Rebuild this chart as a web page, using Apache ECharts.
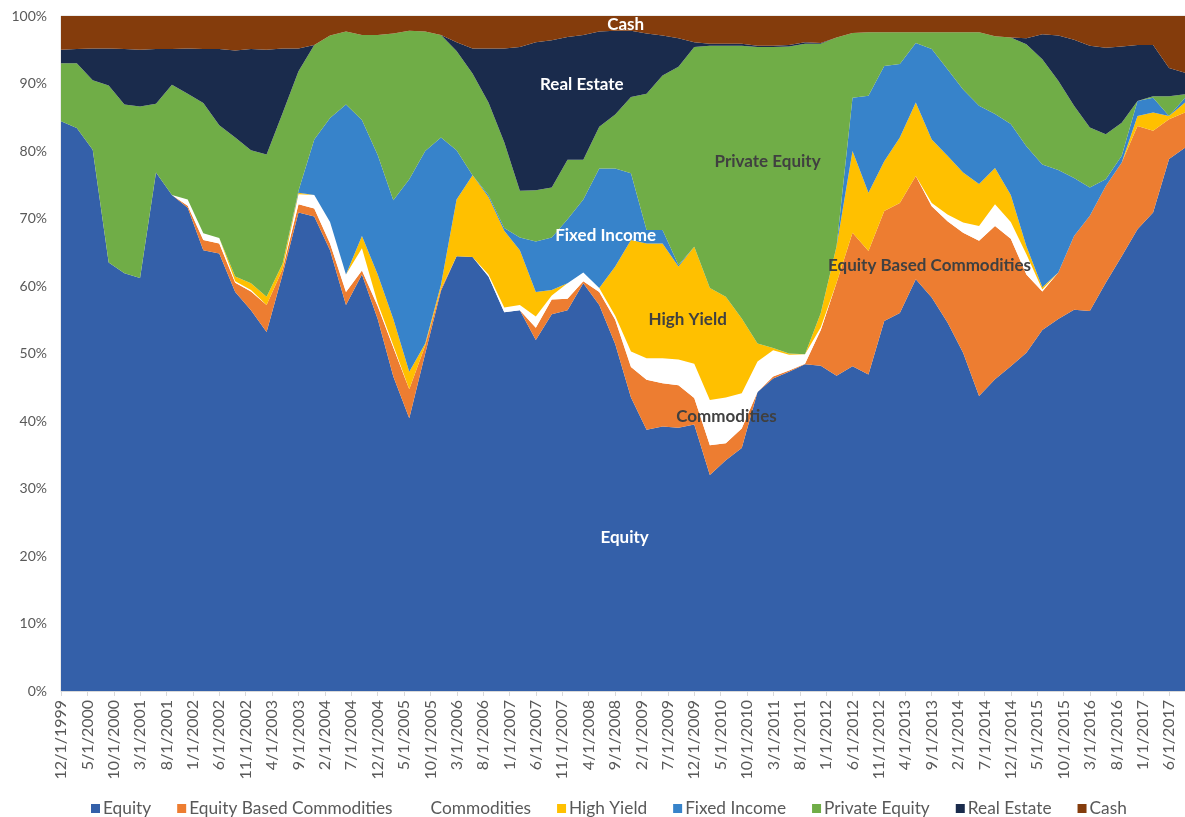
<!DOCTYPE html>
<html><head><meta charset="utf-8">
<script src="https://cdn.jsdelivr.net/npm/echarts/dist/echarts.min.js"></script>
<style>html,body{margin:0;padding:0;background:#fff}#c{width:1185px;height:817px}</style>
</head><body><div id="c"></div>
<script>
const quarters = ["12/1/1999","3/1/2000","6/1/2000","9/1/2000","12/1/2000","3/1/2001","6/1/2001","9/1/2001","12/1/2001","3/1/2002","6/1/2002","9/1/2002","12/1/2002","3/1/2003","6/1/2003","9/1/2003","12/1/2003","3/1/2004","6/1/2004","9/1/2004","12/1/2004","3/1/2005","6/1/2005","9/1/2005","12/1/2005","3/1/2006","6/1/2006","9/1/2006","12/1/2006","3/1/2007","6/1/2007","9/1/2007","12/1/2007","3/1/2008","6/1/2008","9/1/2008","12/1/2008","3/1/2009","6/1/2009","9/1/2009","12/1/2009","3/1/2010","6/1/2010","9/1/2010","12/1/2010","3/1/2011","6/1/2011","9/1/2011","12/1/2011","3/1/2012","6/1/2012","9/1/2012","12/1/2012","3/1/2013","6/1/2013","9/1/2013","12/1/2013","3/1/2014","6/1/2014","9/1/2014","12/1/2014","3/1/2015","6/1/2015","9/1/2015","12/1/2015","3/1/2016","6/1/2016","9/1/2016","12/1/2016","3/1/2017","6/1/2017","9/1/2017"];
const tickLabels = ["12/1/1999","5/1/2000","10/1/2000","3/1/2001","8/1/2001","1/1/2002","6/1/2002","11/1/2002","4/1/2003","9/1/2003","2/1/2004","7/1/2004","12/1/2004","5/1/2005","10/1/2005","3/1/2006","8/1/2006","1/1/2007","6/1/2007","11/1/2007","4/1/2008","9/1/2008","2/1/2009","7/1/2009","12/1/2009","5/1/2010","10/1/2010","3/1/2011","8/1/2011","1/1/2012","6/1/2012","11/1/2012","4/1/2013","9/1/2013","2/1/2014","7/1/2014","12/1/2014","5/1/2015","10/1/2015","3/1/2016","8/1/2016","1/1/2017","6/1/2017"];
const yTickLabels = ["0%","10%","20%","30%","40%","50%","60%","70%","80%","90%","100%"];

const equity = [84.4,83.4,80.2,63.5,61.9,61.2,76.8,73.5,71.6,65.3,64.8,59.1,56.4,53.2,61.7,70.9,70.3,65.3,57.2,61.7,55.1,46.6,40.4,50.0,59.3,64.4,64.3,61.4,56.1,56.4,52.0,55.8,56.4,60.4,57.2,51.4,43.5,38.7,39.2,39.0,39.5,32.0,34.2,36.0,44.3,46.3,47.3,48.4,48.2,46.7,48.1,46.9,54.8,56.0,61.0,58.3,54.6,50.1,43.7,46.2,48.1,50.1,53.5,55.1,56.5,56.3,60.5,64.4,68.4,70.9,78.8,80.5];
const equityBasedCommodities = [0,0,0,0,0,0,0,0,0.3,1.5,1.5,1.4,2.8,4.0,0.8,1.2,1.2,1.0,1.9,0.6,1.9,4.3,4.3,1.2,0.3,0,0,0,0,0,1.8,2.2,1.7,0.3,1.9,3.6,4.5,7.4,6.4,6.3,3.9,4.4,2.5,2.9,0,0.3,0.2,0.1,5.3,13.8,19.8,18.3,16.3,16.3,15.3,13.5,15.0,17.8,23.0,22.7,18.9,11.6,5.7,6.9,10.9,14.1,14.3,13.9,15.3,12.1,5.9,5.2];
const commodities = [0,0,0,0,0,0,0,0,0.9,1.0,0.8,0.2,0.2,0,0,1.5,2.0,3.2,2.6,3.3,0.5,0.3,0,0,0,0,0,0.3,0.7,0.8,1.7,0.6,2.3,1.3,0.6,0.6,2.3,3.2,3.7,3.8,5.1,6.7,6.8,5.2,4.5,3.9,2.3,1.4,0.4,0,0,0,0,0,0,0.5,1.0,1.5,2.2,3.2,2.5,3.0,0.3,0,0,0,0,0,0,0,0,0];
const highYield = [0,0,0,0,0,0,0,0,0,0,0,0.7,1.0,1.2,0.8,0.2,0,0,0,1.8,4.2,3.9,2.6,0.3,0.6,8.4,12.1,11.5,11.4,8.1,3.6,0.8,0,0,0,7.3,16.5,17.0,17.0,13.8,17.3,16.6,14.9,11.1,2.7,0.3,0.2,0,2.1,5.4,12.1,8.6,7.4,9.7,10.9,9.4,8.7,7.4,6.2,5.4,4.0,1.2,0.3,0,0,0,0,0,1.5,2.7,0.5,1.5];
const fixedIncome = [0,0,0,0,0,0,0,0,0,0,0,0,0,0,0,0.3,8.2,15.4,25.2,17.2,17.7,17.6,28.5,28.5,21.8,7.3,0,0.3,0.4,1.9,7.5,7.8,9.5,10.8,17.7,14.5,9.9,2.0,2.0,0.2,0,0,0,0,0,0,0,0,0,0,7.9,14.4,14.1,10.9,8.8,13.4,12.8,12.3,11.6,8.0,10.5,14.8,18.2,15.2,8.6,4.2,1.0,1.0,2.2,2.2,0,0.7];
const privateEquity = [8.6,9.6,10.3,26.2,25.0,25.4,10.2,16.3,15.7,19.3,16.7,20.6,19.7,21.1,22.3,17.7,14.0,12.2,10.8,12.6,17.8,24.7,22.0,17.7,15.2,14.7,15.1,13.7,12.7,6.9,7.6,7.4,8.8,5.9,6.2,8.0,11.3,20.2,22.9,29.4,29.6,35.9,37.2,40.4,43.9,44.6,45.5,46.0,39.9,30.9,9.6,9.4,5.0,4.7,1.6,2.5,5.5,8.5,10.9,11.5,12.8,15.1,15.6,13.2,10.7,8.9,6.7,4.9,0,0.2,2.9,0.5];
const realEstate = [2.0,2.1,4.7,5.5,8.2,8.4,8.1,5.3,6.7,8.0,11.3,12.9,15.0,15.5,9.6,3.4,0,0,0,0,0,0,0,0,0,1.3,3.7,8.0,13.9,21.3,21.9,21.8,18.2,18.5,14.1,12.4,9.8,8.9,5.9,4.2,0.7,0.3,0.3,0.3,0.2,0.2,0.2,0.2,0.1,0,0,0,0,0,0,0,0,0,0,0,0,0.9,3.7,6.7,9.8,12.1,12.8,11.3,8.3,7.6,4.2,3.2];
const cash = [5.0,4.9,4.8,4.8,4.9,5.0,4.9,4.9,4.8,4.9,4.9,5.1,4.9,5.0,4.8,4.8,4.3,2.9,2.3,2.8,2.8,2.6,2.2,2.3,2.8,3.9,4.8,4.8,4.8,4.6,3.9,3.6,3.1,2.8,2.3,2.2,2.2,2.6,2.9,3.3,3.9,4.1,4.1,4.1,4.4,4.4,4.3,3.9,4.0,3.2,2.5,2.4,2.4,2.4,2.4,2.4,2.4,2.4,2.4,3.0,3.2,3.3,2.7,2.9,3.5,4.4,4.7,4.5,4.3,4.3,7.7,8.4];

const seriesNames = ["Equity","Equity Based Commodities","Commodities","High Yield","Fixed Income","Private Equity","Real Estate","Cash"];
const seriesValues = [equity, equityBasedCommodities, commodities, highYield, fixedIncome, privateEquity, realEstate, cash];
const seriesColors = ["#3460A9","#ED7D31","#FFFFFF","#FFC000","#3783CA","#70AD47","#1A2B4C","#843C0C"];

// in-chart area labels: [text, months after first date, percent, colour]
const areaLabels = [
  ["Cash", 107.0, 98.8, "#FFFFFF"],
  ["Real Estate", 98.7, 89.9, "#FFFFFF"],
  ["Private Equity", 133.9, 78.5, "#404040"],
  ["Fixed Income", 103.2, 67.5, "#FFFFFF"],
  ["Equity Based Commodities", 164.6, 63.1, "#404040"],
  ["High Yield", 118.75, 55.1, "#404040"],
  ["Commodities", 126.1, 40.7, "#404040"],
  ["Equity", 106.8, 22.8, "#FFFFFF"]
];

function parseDate(s){const p=s.split('/');return new Date(+p[2], +p[0]-1, +p[1]).getTime();}
function monthIndex(s){const p=s.split('/');return (+p[2]-1999)*12 + (+p[0]-12);}
const xs = quarters.map(parseDate);
const lastMonth = monthIndex(quarters[quarters.length - 1]);
const totals = xs.map((_, i) => seriesValues.reduce((a, s) => a + s[i], 0));

const FONT = 'Lato';
const chart = echarts.init(document.getElementById('c'), null, {renderer: 'canvas'});
const option = {
  animation: false,
  backgroundColor: '#FFFFFF',
  grid: {left: 61, right: 0, top: 16, bottom: 126, show: true, borderColor: '#D9D9D9', borderWidth: 1, backgroundColor: 'transparent'},
  legend: {
    top: 795, left: 86, itemWidth: 9, itemHeight: 9, itemGap: 26, icon: 'rect',
    textStyle: {color: '#595959', fontSize: 17.3, fontFamily: FONT, padding: [0, 0, 0, -2]},
    data: seriesNames.map((n, i) => ({name: n, itemStyle: {color: seriesColors[i]}}))
  },
  xAxis: [
    { // data axis (dates) - hidden
      type: 'time', min: xs[0], max: xs[xs.length - 1], show: false
    },
    { // month-count axis used for the visible ticks and labels
      type: 'value', min: 0, max: lastMonth, interval: 5, position: 'bottom',
      axisLine: {show: true, lineStyle: {color: '#D9D9D9'}},
      axisTick: {show: true, length: 5, lineStyle: {color: '#D9D9D9'}},
      axisLabel: {rotate: 90, margin: 9, color: '#595959', fontSize: 16, fontFamily: FONT,
        showMaxLabel: false, formatter: v => (v % 5 === 0 ? (tickLabels[v / 5] || '') : '')},
      splitLine: {show: false}
    }
  ],
  yAxis: {
    type: 'value', min: 0, max: 100, interval: 10,
    axisLine: {show: false}, axisTick: {show: false}, splitLine: {show: false},
    axisLabel: {color: '#595959', fontSize: 14, fontFamily: FONT, margin: 14, formatter: v => yTickLabels[Math.round(v / 10)]}
  },
  series: seriesNames.map((n, si) => ({
    name: n, type: 'line', stack: 'total', symbol: 'none', showSymbol: false,
    xAxisIndex: 0,
    lineStyle: {width: 0, opacity: 0},
    itemStyle: {color: seriesColors[si]},
    areaStyle: {color: seriesColors[si], opacity: 1},
    emphasis: {disabled: true},
    data: xs.map((x, i) => [x, seriesValues[si][i] / totals[i] * 100])
  }))
};
chart.setOption(option);

chart.setOption({
  graphic: areaLabels.map(([t, m, p, c]) => {
    const pt = chart.convertToPixel({xAxisIndex: 1, yAxisIndex: 0}, [m, p]);
    return {type: 'text', x: pt[0], y: pt[1], silent: true, z: 100,
      style: {text: t, fill: c, font: 'bold 17px ' + FONT, textAlign: 'center', textVerticalAlign: 'middle'}};
  })
});
</script>
</body></html>
